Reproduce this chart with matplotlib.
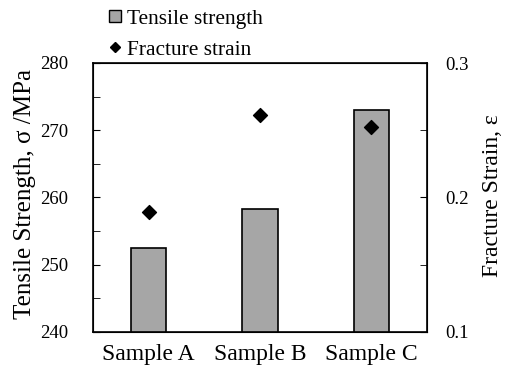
import matplotlib
matplotlib.use("Agg")
import matplotlib.pyplot as plt
from matplotlib.lines import Line2D

categories = ["Sample A", "Sample B", "Sample C"]
tensile_strength = [252.5, 258.2, 273.0]
fracture_strain = [0.189, 0.261, 0.2525]

plt.rcParams['font.family'] = ['Liberation Serif', 'DejaVu Serif']
plt.rcParams['font.size'] = 13

fig = plt.figure(figsize=(5.08, 3.70), dpi=100)
ax = fig.add_axes([93/508, 1 - 331.7/370, (427-93)/508, (331.7-63)/370])
x = list(range(len(categories)))
ax.bar(x, tensile_strength, width=0.32, color='#a6a6a6', edgecolor='black', linewidth=1.2, zorder=2)
ax.set_xlim(-0.5, 2.5)
ax.set_ylim(240, 280)
ax.set_yticks([240, 250, 260, 270, 280])
ax.set_yticks([245, 255, 265, 275], minor=True)
ax.set_xticks(x)
ax.set_xticklabels(categories, fontsize=17)
ax.tick_params(axis='x', length=0, pad=9)
ax.tick_params(axis='y', which='both', direction='in', length=5, pad=18, labelsize=13.5)
for s in ax.spines.values():
    s.set_linewidth(1.2)

ax2 = ax.twinx()
ax2.scatter(x, fracture_strain, marker='D', s=50, color='black', zorder=3)
ax2.set_ylim(0.1, 0.3)
ax2.set_yticks([0.1, 0.2, 0.3])
ax2.set_yticklabels(["0.1", "0.2", "0.3"])
ax2.set_yticks([0.15, 0.25], minor=True)
ax2.tick_params(axis='y', which='both', direction='in', length=5, pad=13, labelsize=13.5)

fig.text(25/508, 1 - 194/370, "Tensile Strength, σ /MPa", rotation=90,
         ha='center', va='center', fontsize=18)
fig.text(493/508, 1 - 196/370, "Fracture Strain, ε", rotation=90,
         ha='center', va='center', fontsize=17)

handles = [Line2D([], [], marker='s', color='black', markerfacecolor='#a6a6a6',
                  markeredgecolor='black', markeredgewidth=1.0, linestyle='none', markersize=9),
           Line2D([], [], marker='D', color='black', linestyle='none', markersize=5.5)]
fig.legend(handles, ["Tensile strength", "Fracture strain"], loc='upper left',
           bbox_to_anchor=(106/508, 1 - 9/370), frameon=False, handlelength=0.8,
           handletextpad=0.2, labelspacing=0.5, borderaxespad=0.0, borderpad=0.0,
           fontsize=15.4)

fig.savefig("out.png", dpi=100)
